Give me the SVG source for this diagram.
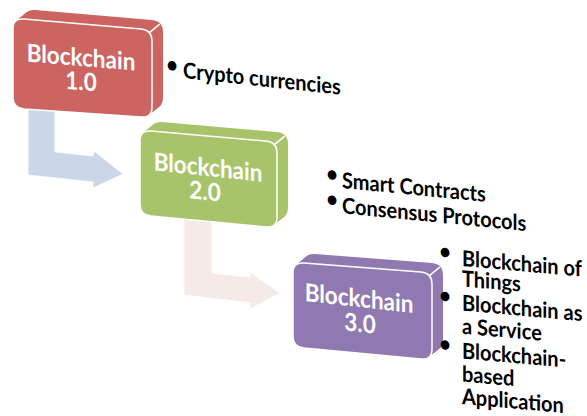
<svg xmlns="http://www.w3.org/2000/svg" xmlns:xlink="http://www.w3.org/1999/xlink" width="587" height="416" viewBox="0 0 587 416">
<style>
.t{font-family:Lato,'Open Sans','Liberation Sans',sans-serif;font-weight:700}
.bt{fill:#ffffff;font-size:22.5px;text-anchor:middle}
.lt{fill:#000000;font-size:20px}
.bu{fill:#000000;font-size:20px;text-anchor:middle}
.face{stroke:#ffffff;stroke-width:1.5}
.crease{stroke:#ffffff;stroke-width:1.5;fill:none}
.arrow{stroke:#ffffff;stroke-width:1;stroke-opacity:0.8}
</style>
<defs>
<path id="f1" d="M13,29 Q13,18 24,19 L141,29 Q152,30 152,41 L152,107 Q152,118 141,117 L24,109 Q13,108 13,97 Z"/>
<path id="f2" d="M140,141 Q140,130 151,131 L266,141 Q277,142 277,153 L277,217 Q277,228 266,227 L151,216 Q140,215 140,204 Z"/>
<path id="f3" d="M293,273 Q293,262 304,263 L421,272 Q432,273 432,284 L432,349 Q432,360 421,359 L304,348 Q293,347 293,336 Z"/>
</defs>
<g id="connectors">
<polygon class="arrow" fill="#cbd6e9" points="28,100 55,100 55,152 93,156 94,151 123,174 93,188 93,182 28,175"/>
<polygon class="arrow" fill="#f6eae9" points="184,210 212,210 212,273 250,277 250,272 280,293 250,309 250,303 184,295"/>
</g>
<g id="node-blockchain-1" fill="#cc6461">
<use xlink:href="#f1" transform="translate(11,-9)"/>
<use xlink:href="#f1" transform="translate(9.6,-7.9)"/>
<use xlink:href="#f1" transform="translate(8.3,-6.8)"/>
<use xlink:href="#f1" transform="translate(6.9,-5.6)"/>
<use xlink:href="#f1" transform="translate(5.5,-4.5)"/>
<use xlink:href="#f1" transform="translate(4.1,-3.4)"/>
<use xlink:href="#f1" transform="translate(2.8,-2.3)"/>
<use xlink:href="#f1" transform="translate(1.4,-1.1)"/>
<use xlink:href="#f1" class="face"/>
<line class="crease" x1="148.8" y1="33.2" x2="159.8" y2="24.2"/>
<text class="t bt" transform="translate(81,66) skewY(4.8) scale(1,1.1)">Blockchain</text>
<text class="t bt" transform="translate(81,90) skewY(4.8) scale(1,1.1)">1.0</text>
</g>
<g id="node-blockchain-2" fill="#a8c46b">
<use xlink:href="#f2" transform="translate(11,-9)"/>
<use xlink:href="#f2" transform="translate(9.6,-7.9)"/>
<use xlink:href="#f2" transform="translate(8.3,-6.8)"/>
<use xlink:href="#f2" transform="translate(6.9,-5.6)"/>
<use xlink:href="#f2" transform="translate(5.5,-4.5)"/>
<use xlink:href="#f2" transform="translate(4.1,-3.4)"/>
<use xlink:href="#f2" transform="translate(2.8,-2.3)"/>
<use xlink:href="#f2" transform="translate(1.4,-1.1)"/>
<use xlink:href="#f2" class="face"/>
<line class="crease" x1="273.8" y1="145.2" x2="284.8" y2="136.2"/>
<text class="t bt" transform="translate(208,176) skewY(6) scale(1,1.1)">Blockchain</text>
<text class="t bt" transform="translate(205,200) skewY(6) scale(1,1.1)">2.0</text>
</g>
<g id="node-blockchain-3" fill="#9079b0">
<use xlink:href="#f3" transform="translate(11,-9)"/>
<use xlink:href="#f3" transform="translate(9.6,-7.9)"/>
<use xlink:href="#f3" transform="translate(8.3,-6.8)"/>
<use xlink:href="#f3" transform="translate(6.9,-5.6)"/>
<use xlink:href="#f3" transform="translate(5.5,-4.5)"/>
<use xlink:href="#f3" transform="translate(4.1,-3.4)"/>
<use xlink:href="#f3" transform="translate(2.8,-2.3)"/>
<use xlink:href="#f3" transform="translate(1.4,-1.1)"/>
<use xlink:href="#f3" class="face"/>
<line class="crease" x1="428.8" y1="276.2" x2="439.8" y2="267.2"/>
<text class="t bt" transform="translate(359,307) skewY(6.3) scale(1,1.1)">Blockchain</text>
<text class="t bt" transform="translate(360,332) skewY(6.3) scale(1,1.1)">3.0</text>
</g>
<g id="list-1" transform="translate(183,78) skewY(6) scale(1,1.1)">
<text class="t bu" x="-11" y="-4">•</text>
<text class="t lt" x="0" y="0">Crypto currencies</text>
</g>
<g id="list-2" transform="translate(342,188) skewY(5.5) scale(1,1.1)">
<text class="t bu" x="-10" y="-5">•</text>
<text class="t lt" x="0" y="0">Smart Contracts</text>
<text class="t bu" x="-10" y="18">•</text>
<text class="t lt" x="0" y="23">Consensus Protocols</text>
</g>
<g id="list-3" transform="translate(462,266) skewY(5) scale(1,1.1)">
<text class="t bu" x="-17" y="-5">•</text>
<text class="t lt" x="0" y="0">Blockchain of</text>
<text class="t lt" x="0" y="18.5">Things</text>
<text class="t bu" x="-17" y="35">•</text>
<text class="t lt" x="0" y="40.5">Blockchain as</text>
<text class="t lt" x="0" y="61.5">a Service</text>
<text class="t bu" x="-17" y="79">•</text>
<text class="t lt" x="0" y="84">Blockchain-</text>
<text class="t lt" x="0" y="105">based</text>
<text class="t lt" x="0" y="125.5">Application</text>
</g>
</svg>
